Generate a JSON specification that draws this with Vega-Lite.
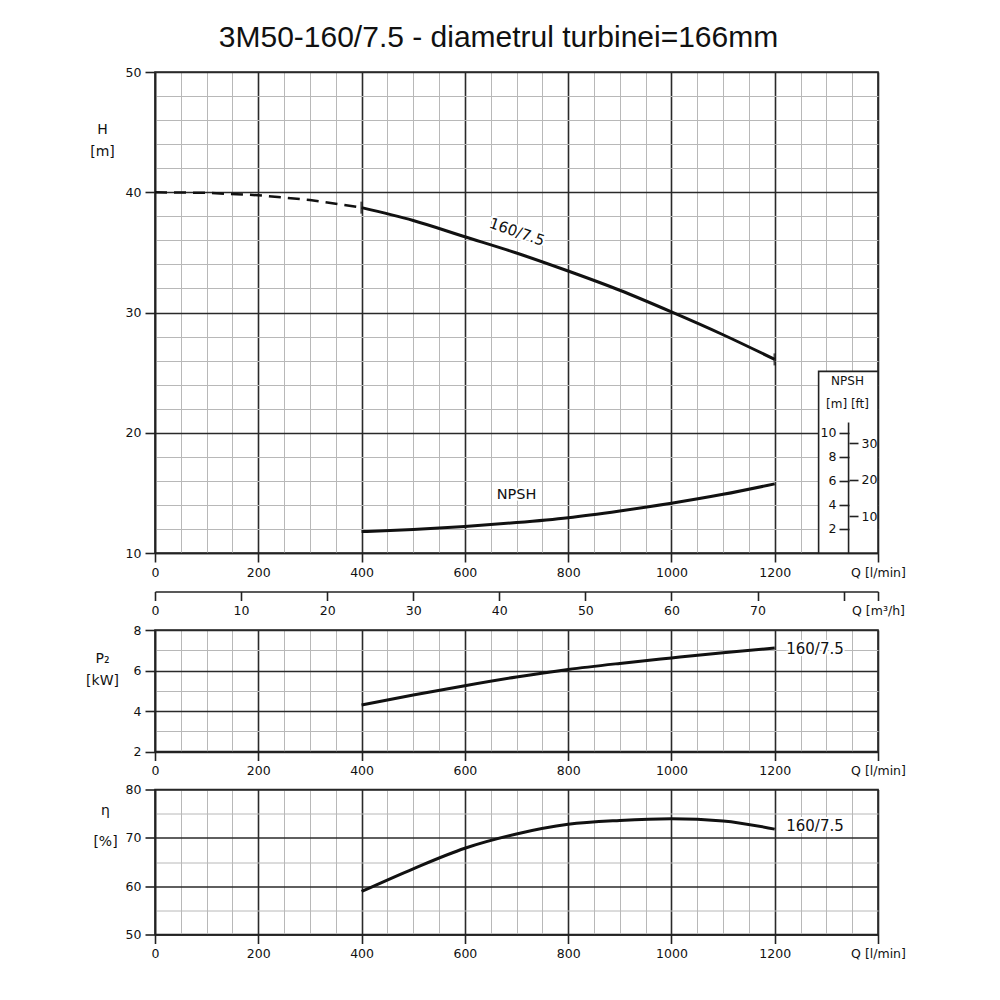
{
  "$schema": "https://vega.github.io/schema/vega-lite/v6.json",
  "background": "white",
  "padding": {"left": 84, "top": 23, "right": 5, "bottom": 5},
  "title": {"text": "3M50-160/7.5 - diametrul turbinei=166mm", "font": "Liberation Sans", "fontSize": 30, "fontWeight": "normal", "color": "#111", "anchor": "middle", "dx": 3, "offset": 12},
  "datasets": {
    "h_dash": [{"q": 0, "h": 40}, {"q": 100, "h": 39.95}, {"q": 200, "h": 39.75}, {"q": 300, "h": 39.36}, {"q": 400, "h": 38.72}],
    "h_solid": [{"q": 400, "h": 38.72}, {"q": 500, "h": 37.65}, {"q": 600, "h": 36.3}, {"q": 700, "h": 34.95}, {"q": 800, "h": 33.45}, {"q": 900, "h": 31.85}, {"q": 1000, "h": 30.05}, {"q": 1100, "h": 28.15}, {"q": 1200, "h": 26.1}],
    "npsh": [{"q": 400, "npsh": 1.78}, {"q": 500, "npsh": 1.95}, {"q": 600, "npsh": 2.2}, {"q": 700, "npsh": 2.53}, {"q": 800, "npsh": 2.94}, {"q": 900, "npsh": 3.5}, {"q": 1000, "npsh": 4.14}, {"q": 1100, "npsh": 4.88}, {"q": 1200, "npsh": 5.75}],
    "p2": [{"q": 400, "p": 4.3}, {"q": 500, "p": 4.79}, {"q": 600, "p": 5.25}, {"q": 700, "p": 5.68}, {"q": 800, "p": 6.05}, {"q": 900, "p": 6.35}, {"q": 1000, "p": 6.62}, {"q": 1100, "p": 6.88}, {"q": 1200, "p": 7.11}],
    "eta": [{"q": 400, "e": 58.9}, {"q": 500, "e": 63.6}, {"q": 600, "e": 67.85}, {"q": 700, "e": 70.8}, {"q": 800, "e": 72.8}, {"q": 900, "e": 73.6}, {"q": 1000, "e": 73.95}, {"q": 1100, "e": 73.5}, {"q": 1200, "e": 71.8}]
  },
  "bounds": "flush",
  "spacing": 37.5,
  "vconcat": [
    {
      "width": 723,
      "height": 481,
      "resolve": {"scale": {"x": "independent", "y": "independent"}},
      "layer": [
        {
          "layer": [
            {
              "data": {"name": "h_dash"},
              "mark": {"type": "line", "color": "#111", "strokeWidth": 2.5, "strokeDash": [12, 7]},
              "encoding": {
                "x": {"field": "q", "type": "quantitative", "scale": {"domain": [0, 1400], "nice": false, "zero": false},
                  "axis": {"values": [0,50,100,150,200,250,300,350,400,450,500,550,600,650,700,750,800,850,900,950,1000,1050,1100,1150,1200,1250,1300,1350,1400],
                    "tickCount": 200, "format": "d", "grid": true,
                    "gridColor": {"condition": {"test": "datum.value % 200 === 0", "value": "#2a2a2a"}, "value": "#b8b8b8"},
                    "gridWidth": {"condition": {"test": "datum.value % 200 === 0", "value": 1.6}, "value": 1},
                    "tickOpacity": {"condition": {"test": "datum.value % 200 === 0", "value": 1}, "value": 0},
                    "labelExpr": "datum.value === 1400 ? 'Q [l/min]' : (datum.value % 200 === 0 ? datum.label : '')",
                    "tickSize": 9, "labelPadding": 4, "title": null}},
                "y": {"field": "h", "type": "quantitative", "scale": {"domain": [10, 50], "nice": false, "zero": false},
                  "axis": {"values": [10,12,14,16,18,20,22,24,26,28,30,32,34,36,38,40,42,44,46,48,50],
                    "tickCount": 200, "format": "d", "grid": true,
                    "gridColor": {"condition": {"test": "datum.value % 10 === 0", "value": "#2a2a2a"}, "value": "#b8b8b8"},
                    "gridWidth": {"condition": {"test": "datum.value % 10 === 0", "value": 1.6}, "value": 1},
                    "tickOpacity": {"condition": {"test": "datum.value % 10 === 0", "value": 1}, "value": 0},
                    "labelExpr": "datum.value % 10 === 0 ? datum.label : ''",
                    "tickSize": 10, "labelPadding": 4,
                    "title": ["H", "[m]"], "titleAngle": 0, "titleAlign": "center", "titleBaseline": "alphabetic", "titleX": -53, "titleY": 61, "titleLineHeight": 22}}
              }
            },
            {
              "data": {"name": "h_solid"},
              "mark": {"type": "line", "color": "#111", "strokeWidth": 3, "interpolate": "monotone"},
              "encoding": {"x": {"field": "q", "type": "quantitative"}, "y": {"field": "h", "type": "quantitative"}}
            },
            {
              "data": {"name": "h_solid"},
              "transform": [{"filter": "datum.q === 400 || datum.q === 1200"}],
              "mark": {"type": "tick", "orient": "vertical", "color": "#111", "size": 12, "thickness": 2.5},
              "encoding": {"x": {"field": "q", "type": "quantitative"}, "y": {"field": "h", "type": "quantitative"}}
            },
            {
              "data": {"values": [{}]},
              "mark": {"type": "text", "text": "160/7.5", "angle": 19, "fontSize": 15, "fill": "white", "stroke": "white", "strokeWidth": 4},
              "encoding": {"x": {"datum": 701}, "y": {"datum": 36.7}}
            },
            {
              "data": {"values": [{}]},
              "mark": {"type": "text", "text": "160/7.5", "angle": 19, "fontSize": 15, "fill": "#111"},
              "encoding": {"x": {"datum": 701}, "y": {"datum": 36.7}}
            },
            {
              "data": {"values": [{}]},
              "mark": {"type": "text", "text": "NPSH", "fontSize": 14.5, "fill": "white", "stroke": "white", "strokeWidth": 4},
              "encoding": {"x": {"datum": 700}, "y": {"datum": 14.85}}
            },
            {
              "data": {"values": [{}]},
              "mark": {"type": "text", "text": "NPSH", "fontSize": 14.5, "fill": "#111"},
              "encoding": {"x": {"datum": 700}, "y": {"datum": 14.85}}
            },
            {
              "data": {"values": [{}]},
              "mark": {"type": "rect", "fill": "white", "stroke": "#222", "strokeWidth": 1.6},
              "encoding": {"x": {"datum": 1285}, "x2": {"datum": 1400}, "y": {"datum": 10}, "y2": {"datum": 25.1}}
            },
            {
              "data": {"values": [{}]},
              "mark": {"type": "text", "text": "NPSH", "fontSize": 12, "fill": "#111"},
              "encoding": {"x": {"datum": 1341}, "y": {"datum": 24.3}}
            },
            {
              "data": {"values": [{}]},
              "mark": {"type": "text", "text": "[m] [ft]", "fontSize": 12, "fill": "#111"},
              "encoding": {"x": {"datum": 1341}, "y": {"datum": 22.4}}
            }
          ]
        },
        {
          "data": {"name": "npsh"},
          "mark": {"type": "line", "color": "#111", "strokeWidth": 3, "interpolate": "monotone"},
          "encoding": {
            "x": {"field": "q", "type": "quantitative", "scale": {"domain": [0, 1400], "nice": false, "zero": false}, "axis": null},
            "y": {"field": "npsh", "type": "quantitative", "scale": {"domain": [0, 40], "nice": false, "zero": false},
              "axis": {"orient": "right", "offset": -29, "values": [2, 4, 6, 8, 10], "tickCount": 200, "format": "d", "grid": false, "domain": false,
                "tickSize": -10, "labelAlign": "right", "labelPadding": -3, "zindex": 2, "title": null}}
          }
        },
        {
          "data": {"values": [{}]},
          "mark": {"type": "rule", "color": "#222", "strokeWidth": 1.6},
          "encoding": {
            "x": {"datum": 1343, "type": "quantitative", "scale": {"domain": [0, 1400], "nice": false, "zero": false}, "axis": null},
            "y": {"datum": 0, "type": "quantitative", "scale": {"domain": [0, 131.234], "nice": false, "zero": false},
              "axis": {"orient": "right", "offset": -29, "values": [10, 20, 30], "tickCount": 200, "format": "d", "grid": false, "domain": false,
                "tickSize": 9, "labelAlign": "left", "labelPadding": 3, "zindex": 2, "title": null}},
            "y2": {"datum": 35.6}
          }
        }
      ]
    },
    {
      "width": 723,
      "height": 2,
      "view": {"stroke": null},
      "data": {"values": [{}]},
      "mark": {"type": "rule", "opacity": 0},
      "encoding": {
        "x": {"datum": 0, "type": "quantitative", "scale": {"domain": [0, 84], "nice": false, "zero": false},
          "axis": {"orient": "bottom", "offset": -1, "values": [0, 10, 20, 30, 40, 50, 60, 70, 80, 84], "tickCount": 200, "format": "d", "grid": false,
            "labelExpr": "datum.value === 84 ? 'Q [m³/h]' : (datum.value === 80 ? '' : datum.label)",
            "tickSize": 9, "labelPadding": 4, "title": null}}
      }
    },
    {
      "width": 723,
      "height": 121.5,
      "layer": [
        {
          "data": {"name": "p2"},
          "mark": {"type": "line", "color": "#111", "strokeWidth": 3, "interpolate": "monotone"},
          "encoding": {
            "x": {"field": "q", "type": "quantitative", "scale": {"domain": [0, 1400], "nice": false, "zero": false},
              "axis": {"values": [0,50,100,150,200,250,300,350,400,450,500,550,600,650,700,750,800,850,900,950,1000,1050,1100,1150,1200,1250,1300,1350,1400],
                "tickCount": 200, "format": "d", "grid": true,
                "gridColor": {"condition": {"test": "datum.value % 200 === 0", "value": "#2a2a2a"}, "value": "#b8b8b8"},
                "gridWidth": {"condition": {"test": "datum.value % 200 === 0", "value": 1.6}, "value": 1},
                "tickOpacity": {"condition": {"test": "datum.value % 200 === 0", "value": 1}, "value": 0},
                "labelExpr": "datum.value === 1400 ? 'Q [l/min]' : (datum.value % 200 === 0 ? datum.label : '')",
                "tickSize": 9, "labelPadding": 4, "title": null}},
            "y": {"field": "p", "type": "quantitative", "scale": {"domain": [2, 8], "nice": false, "zero": false},
              "axis": {"values": [2, 3, 4, 5, 6, 7, 8], "tickCount": 200, "format": "d", "grid": true,
                "gridColor": {"condition": {"test": "datum.value % 2 === 0", "value": "#2a2a2a"}, "value": "#b8b8b8"},
                "gridWidth": {"condition": {"test": "datum.value % 2 === 0", "value": 1.6}, "value": 1},
                "tickOpacity": {"condition": {"test": "datum.value % 2 === 0", "value": 1}, "value": 0},
                "labelExpr": "datum.value % 2 === 0 ? datum.label : ''",
                "tickSize": 10, "labelPadding": 4,
                "title": ["P₂", "[kW]"], "titleAngle": 0, "titleAlign": "center", "titleBaseline": "alphabetic", "titleX": -53, "titleY": 32, "titleLineHeight": 22}}
          }
        },
        {
          "data": {"values": [{}]},
          "mark": {"type": "text", "text": "160/7.5", "fontSize": 15, "fill": "white", "stroke": "white", "strokeWidth": 4},
          "encoding": {"x": {"datum": 1278}, "y": {"datum": 7.06}}
        },
        {
          "data": {"values": [{}]},
          "mark": {"type": "text", "text": "160/7.5", "fontSize": 15, "fill": "#111"},
          "encoding": {"x": {"datum": 1278}, "y": {"datum": 7.06}}
        }
      ]
    },
    {
      "width": 723,
      "height": 145,
      "layer": [
        {
          "data": {"name": "eta"},
          "mark": {"type": "line", "color": "#111", "strokeWidth": 3, "interpolate": "monotone"},
          "encoding": {
            "x": {"field": "q", "type": "quantitative", "scale": {"domain": [0, 1400], "nice": false, "zero": false},
              "axis": {"values": [0,50,100,150,200,250,300,350,400,450,500,550,600,650,700,750,800,850,900,950,1000,1050,1100,1150,1200,1250,1300,1350,1400],
                "tickCount": 200, "format": "d", "grid": true,
                "gridColor": {"condition": {"test": "datum.value % 200 === 0", "value": "#2a2a2a"}, "value": "#b8b8b8"},
                "gridWidth": {"condition": {"test": "datum.value % 200 === 0", "value": 1.6}, "value": 1},
                "tickOpacity": {"condition": {"test": "datum.value % 200 === 0", "value": 1}, "value": 0},
                "labelExpr": "datum.value === 1400 ? 'Q [l/min]' : (datum.value % 200 === 0 ? datum.label : '')",
                "tickSize": 9, "labelPadding": 4, "title": null}},
            "y": {"field": "e", "type": "quantitative", "scale": {"domain": [50, 80], "nice": false, "zero": false},
              "axis": {"values": [50, 55, 60, 65, 70, 75, 80], "tickCount": 200, "format": "d", "grid": true,
                "gridColor": {"condition": {"test": "datum.value % 10 === 0", "value": "#2a2a2a"}, "value": "#b8b8b8"},
                "gridWidth": {"condition": {"test": "datum.value % 10 === 0", "value": 1.6}, "value": 1},
                "tickOpacity": {"condition": {"test": "datum.value % 10 === 0", "value": 1}, "value": 0},
                "labelExpr": "datum.value % 10 === 0 ? datum.label : ''",
                "tickSize": 10, "labelPadding": 4,
                "title": ["η", "[%]"], "titleAngle": 0, "titleAlign": "center", "titleBaseline": "alphabetic", "titleX": -50, "titleY": 25, "titleLineHeight": 31}}
          }
        },
        {
          "data": {"values": [{}]},
          "mark": {"type": "text", "text": "160/7.5", "fontSize": 15, "fill": "white", "stroke": "white", "strokeWidth": 4},
          "encoding": {"x": {"datum": 1278}, "y": {"datum": 72.55}}
        },
        {
          "data": {"values": [{}]},
          "mark": {"type": "text", "text": "160/7.5", "fontSize": 15, "fill": "#111"},
          "encoding": {"x": {"datum": 1278}, "y": {"datum": 72.55}}
        }
      ]
    }
  ],
  "config": {
    "view": {"stroke": "#222", "strokeWidth": 1.6},
    "font": "DejaVu Sans",
    "axis": {"labelFont": "DejaVu Sans", "labelFontSize": 12.5, "labelColor": "#111", "tickColor": "#222", "tickWidth": 1.6,
      "domainColor": "#222", "domainWidth": 1.6, "labelFlush": false, "labelOverlap": false,
      "titleFont": "DejaVu Sans", "titleFontWeight": "normal", "titleColor": "#111", "titleFontSize": 14}
  }
}
